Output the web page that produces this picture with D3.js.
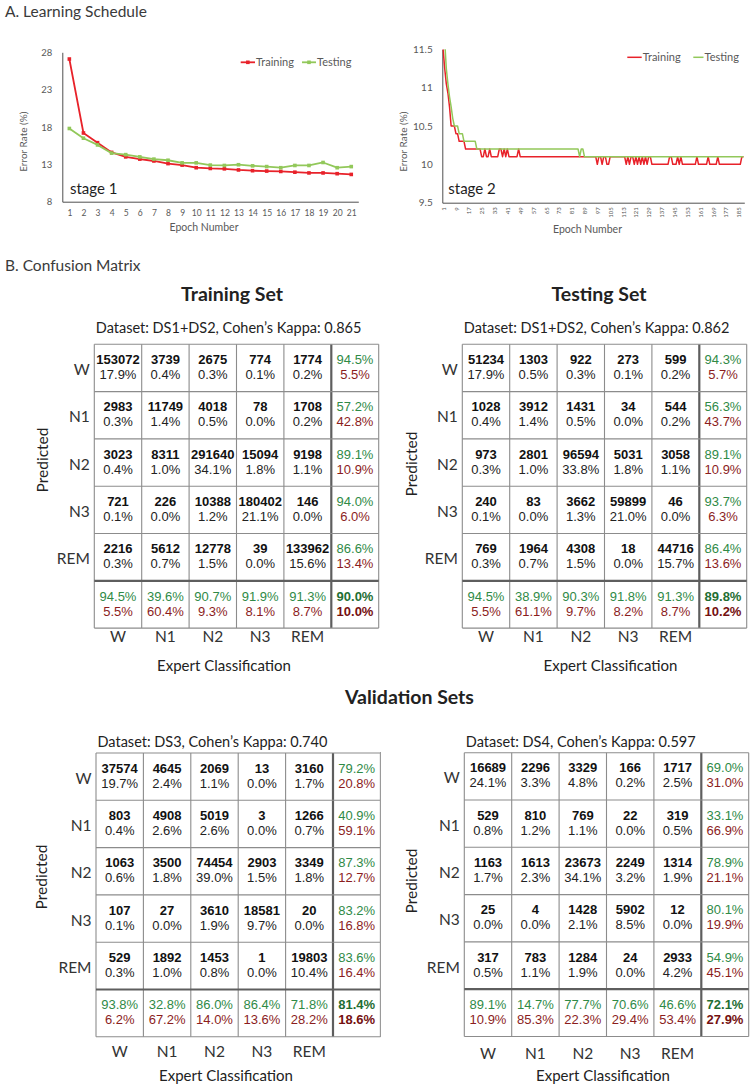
<!DOCTYPE html>
<html>
<head>
<meta charset="utf-8">
<script src="https://cdn.jsdelivr.net/npm/d3@7"></script>
<style>
  html, body { margin: 0; padding: 0; background: #fff; }
  svg { display: block; }
</style>
</head>
<body>
<svg id="chart" width="750" height="1086"></svg>
<script>
// ---------------- DATA ----------------
const stage1Epochs = [1, 2, 3, 4, 5, 6, 7, 8, 9, 10, 11, 12, 13, 14, 15, 16, 17, 18, 19, 20, 21];
const stage1Training = [27.1, 17.2, 15.9, 14.6, 14.0, 13.7, 13.45, 13.1, 12.9, 12.55, 12.45, 12.4, 12.25, 12.15, 12.1, 12.05, 11.95, 11.85, 11.85, 11.75, 11.65];
const stage1Testing = [17.8, 16.5, 15.6, 14.5, 14.3, 14.0, 13.7, 13.55, 13.2, 13.2, 12.9, 12.85, 12.95, 12.8, 12.7, 12.55, 12.85, 12.85, 13.25, 12.55, 12.7];
const stage1YTicks = [8, 13, 18, 23, 28];

const stage2Training = [
  11.5, 11.25, 11.05, 10.93, 10.75, 10.5, 10.5, 10.5, 10.4, 10.4,
  10.3, 10.3, 10.3, 10.3, 10.2, 10.2, 10.2, 10.2, 10.2, 10.2,
  10.2, 10.2, 10.2, 10.2, 10.1, 10.1, 10.2, 10.1, 10.1, 10.2,
  10.1, 10.1, 10.1, 10.1, 10.1, 10.2, 10.2, 10.1, 10.2, 10.1,
  10.2, 10.1, 10.1, 10.1, 10.1, 10.1, 10.1, 10.2, 10.1, 10.1,
  10.1, 10.1, 10.1, 10.1, 10.1, 10.1, 10.1, 10.1, 10.1, 10.1,
  10.1, 10.1, 10.1, 10.1, 10.1, 10.1, 10.1, 10.1, 10.1, 10.1,
  10.1, 10.1, 10.1, 10.1, 10.1, 10.1, 10.1, 10.1, 10.1, 10.1,
  10.1, 10.1, 10.1, 10.1, 10.1, 10.1, 10.1, 10.1, 10.1, 10.1,
  10.1, 10.1, 10.1, 10.1, 10.1, 10.1, 10.0, 10.1, 10.1, 10.0,
  10.1, 10.1, 10.0, 10.0, 10.1, 10.1, 10.1, 10.1, 10.1, 10.1,
  10.1, 10.1, 10.1, 10.1, 10.0, 10.1, 10.0, 10.1, 10.1, 10.0,
  10.1, 10.0, 10.1, 10.0, 10.1, 10.0, 10.1, 10.0, 10.1, 10.1,
  10.0, 10.0, 10.0, 10.0, 10.0, 10.0, 10.0, 10.0, 10.0, 10.0,
  10.0, 10.1, 10.1, 10.0, 10.0, 10.0, 10.1, 10.0, 10.1, 10.0,
  10.0, 10.0, 10.0, 10.0, 10.0, 10.0, 10.0, 10.0, 10.1, 10.0,
  10.0, 10.0, 10.0, 10.0, 10.0, 10.1, 10.0, 10.0, 10.0, 10.0,
  10.0, 10.1, 10.0, 10.0, 10.0, 10.0, 10.0, 10.0, 10.0, 10.0,
  10.0, 10.0, 10.0, 10.0, 10.0, 10.0, 10.1, 10.1
];
const stage2Testing = [
  12.0, 11.6, 11.25, 11.05, 10.88, 10.75, 10.6, 10.5, 10.5, 10.5,
  10.4, 10.4, 10.4, 10.3, 10.3, 10.3, 10.3, 10.3, 10.3, 10.3,
  10.3, 10.2, 10.2, 10.2, 10.2, 10.2, 10.2, 10.2, 10.2, 10.2,
  10.2, 10.2, 10.2, 10.2, 10.2, 10.2, 10.2, 10.2, 10.2, 10.2,
  10.2, 10.2, 10.2, 10.2, 10.2, 10.2, 10.2, 10.2, 10.2, 10.2,
  10.2, 10.2, 10.2, 10.2, 10.2, 10.2, 10.2, 10.2, 10.2, 10.2,
  10.2, 10.2, 10.2, 10.2, 10.2, 10.2, 10.2, 10.2, 10.2, 10.2,
  10.2, 10.2, 10.2, 10.2, 10.2, 10.2, 10.2, 10.2, 10.2, 10.2,
  10.2, 10.2, 10.2, 10.2, 10.2, 10.1, 10.2, 10.2, 10.1, 10.1,
  10.1, 10.1, 10.1, 10.1, 10.1, 10.1, 10.1, 10.1, 10.1, 10.1,
  10.1, 10.1, 10.1, 10.1, 10.1, 10.1, 10.1, 10.1, 10.1, 10.1,
  10.1, 10.1, 10.1, 10.1, 10.1, 10.1, 10.1, 10.1, 10.1, 10.1,
  10.1, 10.1, 10.1, 10.1, 10.1, 10.1, 10.1, 10.1, 10.1, 10.1,
  10.1, 10.1, 10.1, 10.1, 10.1, 10.1, 10.1, 10.1, 10.1, 10.1,
  10.1, 10.1, 10.1, 10.1, 10.1, 10.1, 10.1, 10.1, 10.1, 10.1,
  10.1, 10.1, 10.1, 10.1, 10.1, 10.1, 10.1, 10.1, 10.1, 10.1,
  10.1, 10.1, 10.1, 10.1, 10.1, 10.1, 10.1, 10.1, 10.1, 10.1,
  10.1, 10.1, 10.1, 10.1, 10.1, 10.1, 10.1, 10.1, 10.1, 10.1,
  10.1, 10.1, 10.1, 10.1, 10.1, 10.1, 10.1, 10.1
];
const stage2YTicks = [9.5, 10, 10.5, 11, 11.5];
const stage2TickEpochs = [1, 9, 17, 25, 33, 41, 49, 57, 65, 73, 81, 89, 97, 105, 113, 121, 129, 137, 145, 153, 161, 169, 177, 185];

const stages = ["W", "N1", "N2", "N3", "REM"];

// Training set (DS1+DS2)
const trainCounts = [
  [153072, 3739, 2675, 774, 1774],
  [2983, 11749, 4018, 78, 1708],
  [3023, 8311, 291640, 15094, 9198],
  [721, 226, 10388, 180402, 146],
  [2216, 5612, 12778, 39, 133962]
];
const trainPct = [
  [17.9, 0.4, 0.3, 0.1, 0.2],
  [0.3, 1.4, 0.5, 0.0, 0.2],
  [0.4, 1.0, 34.1, 1.8, 1.1],
  [0.1, 0.0, 1.2, 21.1, 0.0],
  [0.3, 0.7, 1.5, 0.0, 15.6]
];
const trainRowAcc = [94.5, 57.2, 89.1, 94.0, 86.6];
const trainRowErr = [5.5, 42.8, 10.9, 6.0, 13.4];
const trainColAcc = [94.5, 39.6, 90.7, 91.9, 91.3];
const trainColErr = [5.5, 60.4, 9.3, 8.1, 8.7];
const trainOverall = [90.0, 10.0];

// Testing set (DS1+DS2)
const testCounts = [
  [51234, 1303, 922, 273, 599],
  [1028, 3912, 1431, 34, 544],
  [973, 2801, 96594, 5031, 3058],
  [240, 83, 3662, 59899, 46],
  [769, 1964, 4308, 18, 44716]
];
const testPct = [
  [17.9, 0.5, 0.3, 0.1, 0.2],
  [0.4, 1.4, 0.5, 0.0, 0.2],
  [0.3, 1.0, 33.8, 1.8, 1.1],
  [0.1, 0.0, 1.3, 21.0, 0.0],
  [0.3, 0.7, 1.5, 0.0, 15.7]
];
const testRowAcc = [94.3, 56.3, 89.1, 93.7, 86.4];
const testRowErr = [5.7, 43.7, 10.9, 6.3, 13.6];
const testColAcc = [94.5, 38.9, 90.3, 91.8, 91.3];
const testColErr = [5.5, 61.1, 9.7, 8.2, 8.7];
const testOverall = [89.8, 10.2];

// Validation DS3
const ds3Counts = [
  [37574, 4645, 2069, 13, 3160],
  [803, 4908, 5019, 3, 1266],
  [1063, 3500, 74454, 2903, 3349],
  [107, 27, 3610, 18581, 20],
  [529, 1892, 1453, 1, 19803]
];
const ds3Pct = [
  [19.7, 2.4, 1.1, 0.0, 1.7],
  [0.4, 2.6, 2.6, 0.0, 0.7],
  [0.6, 1.8, 39.0, 1.5, 1.8],
  [0.1, 0.0, 1.9, 9.7, 0.0],
  [0.3, 1.0, 0.8, 0.0, 10.4]
];
const ds3RowAcc = [79.2, 40.9, 87.3, 83.2, 83.6];
const ds3RowErr = [20.8, 59.1, 12.7, 16.8, 16.4];
const ds3ColAcc = [93.8, 32.8, 86.0, 86.4, 71.8];
const ds3ColErr = [6.2, 67.2, 14.0, 13.6, 28.2];
const ds3Overall = [81.4, 18.6];

// Validation DS4
const ds4Counts = [
  [16689, 2296, 3329, 166, 1717],
  [529, 810, 769, 22, 319],
  [1163, 1613, 23673, 2249, 1314],
  [25, 4, 1428, 5902, 12],
  [317, 783, 1284, 24, 2933]
];
const ds4Pct = [
  [24.1, 3.3, 4.8, 0.2, 2.5],
  [0.8, 1.2, 1.1, 0.0, 0.5],
  [1.7, 2.3, 34.1, 3.2, 1.9],
  [0.0, 0.0, 2.1, 8.5, 0.0],
  [0.5, 1.1, 1.9, 0.0, 4.2]
];
const ds4RowAcc = [69.0, 33.1, 78.9, 80.1, 54.9];
const ds4RowErr = [31.0, 66.9, 21.1, 19.9, 45.1];
const ds4ColAcc = [89.1, 14.7, 77.7, 70.6, 46.6];
const ds4ColErr = [10.9, 85.3, 22.3, 29.4, 53.4];
const ds4Overall = [72.1, 27.9];

// ---------------- DRAWING ----------------
const svg = d3.select("#chart");
const FONT_CHART = "Lato, 'Open Sans', sans-serif";
const FONT_LABEL = "Lato, 'Open Sans', sans-serif";
const FONT_NUM = "'Liberation Sans', Arial, Helvetica, sans-serif";
const RED = "#e8222a";
const GREEN = "#92c85a";
const GRAY_TXT = "#595959";

function txt(g, x, y, s, o = {}) {
  return g.append("text")
    .attr("x", x).attr("y", y)
    .attr("font-family", o.family || FONT_LABEL)
    .attr("font-size", o.size || 14)
    .attr("font-weight", o.weight || "normal")
    .attr("fill", o.fill || "#222")
    .attr("text-anchor", o.anchor || "start")
    .text(s);
}

// Section headers
txt(svg, 5, 17, "A. Learning Schedule", { size: 15.5, fill: "#3a3a3a" });
txt(svg, 5, 271, "B. Confusion Matrix", { size: 15.5, fill: "#3a3a3a" });

let clipCount = 0;
function lineChart(cfg) {
  const g = svg.append("g");
  const x = d3.scalePoint().domain(cfg.epochs).range([cfg.x0, cfg.x1]).padding(0.5);
  const y = d3.scaleLinear().domain(cfg.yDomain).range([cfg.yb, cfg.yt]);
  const clipId = "clip" + (clipCount++);
  svg.append("clipPath").attr("id", clipId).append("rect")
    .attr("x", cfg.x0).attr("y", cfg.yt).attr("width", cfg.x1 - cfg.x0).attr("height", cfg.yb - cfg.yt);

  // y axis
  const ya = g.append("g").attr("transform", `translate(${cfg.x0},0)`)
    .call(d3.axisLeft(y).tickValues(cfg.yTicks).tickSize(0).tickPadding(cfg.yPad).tickFormat(d => d));
  ya.select(".domain").attr("stroke", "#3c3c3c").attr("stroke-width", 0.9);
  ya.selectAll("text").attr("font-family", FONT_CHART).attr("font-size", cfg.yFont).attr("fill", GRAY_TXT);

  // x axis
  const xa = g.append("g").attr("transform", `translate(0,${cfg.yb})`)
    .call(d3.axisBottom(x).tickValues(cfg.xTicks).tickSize(0).tickPadding(cfg.xPad));
  xa.select(".domain").attr("stroke", "#3c3c3c").attr("stroke-width", 0.9);
  xa.selectAll("text").attr("font-family", FONT_CHART).attr("font-size", cfg.xFont).attr("fill", GRAY_TXT);
  if (cfg.rotate) {
    xa.selectAll(".tick text")
      .attr("transform", "rotate(-90)")
      .attr("x", -4.5).attr("y", 0).attr("dy", "0.35em")
      .attr("text-anchor", "end");
  }

  // axis titles
  txt(g, cfg.xTitleX, cfg.xTitleY, "Epoch Number", { family: FONT_CHART, size: 10.5, fill: GRAY_TXT, anchor: "middle" });
  txt(g, 0, 0, "Error Rate (%)", { family: FONT_CHART, size: 10, fill: GRAY_TXT, anchor: "middle" })
    .attr("transform", `translate(${cfg.yTitleX},${cfg.yTitleY}) rotate(-90)`);

  // series
  const line = d3.line().x((v, i) => x(cfg.epochs[i])).y(v => y(v));
  cfg.series.forEach(s => {
    g.append("path").datum(s.values)
      .attr("clip-path", `url(#${clipId})`)
      .attr("fill", "none").attr("stroke", s.color).attr("stroke-width", cfg.lw)
      .attr("stroke-linejoin", "round")
      .attr("d", line);
    if (cfg.markers) {
      g.append("g").selectAll("rect").data(s.values).join("rect")
        .attr("x", (v, i) => x(cfg.epochs[i]) - 1.8)
        .attr("y", v => y(v) - 1.8)
        .attr("width", 3.6).attr("height", 3.6)
        .attr("fill", s.color);
    }
  });

  // legend
  cfg.legend.forEach((l, k) => {
    const s = cfg.series[k];
    g.append("line").attr("x1", l.x1).attr("x2", l.x2).attr("y1", cfg.legendY).attr("y2", cfg.legendY)
      .attr("stroke", s.color).attr("stroke-width", cfg.lw);
    if (cfg.markers) {
      g.append("rect").attr("x", (l.x1 + l.x2) / 2 - 1.8).attr("y", cfg.legendY - 1.8)
        .attr("width", 3.6).attr("height", 3.6).attr("fill", s.color);
    }
    txt(g, l.x2 + 1, cfg.legendY + 3.8, s.name, { family: FONT_CHART, size: 11, fill: GRAY_TXT });
  });

  // stage label
  txt(g, cfg.stageX, cfg.stageY, cfg.stage, { family: FONT_CHART, size: 15, fill: "#1e1e1e" });
}

lineChart({
  epochs: stage1Epochs, x0: 62.3, x1: 358.3, yt: 52.3, yb: 201.7,
  yDomain: [8, 28], yTicks: stage1YTicks, yPad: 10, yFont: 9.5,
  xTicks: stage1Epochs, xPad: 8.5, xFont: 8.5, rotate: false,
  xTitleX: 204, xTitleY: 231, yTitleX: 27, yTitleY: 141.7,
  lw: 1.8, markers: true,
  series: [
    { name: "Training", values: stage1Training, color: RED },
    { name: "Testing", values: stage1Testing, color: GREEN }
  ],
  legendY: 62.3,
  legend: [{ x1: 240.7, x2: 255 }, { x1: 302, x2: 316 }],
  stage: "stage 1", stageX: 70, stageY: 193.5
});

lineChart({
  epochs: d3.range(1, stage2Training.length + 1), x0: 442.3, x1: 744.3, yt: 49.3, yb: 202.7,
  yDomain: [9.5, 11.5], yTicks: stage2YTicks, yPad: 9.6, yFont: 10,
  xTicks: stage2TickEpochs, xPad: 4, xFont: 6, rotate: true,
  xTitleX: 587.5, xTitleY: 232.5, yTitleX: 407, yTitleY: 141.7,
  lw: 1.5, markers: false,
  series: [
    { name: "Training", values: stage2Training, color: RED },
    { name: "Testing", values: stage2Testing, color: GREEN }
  ],
  legendY: 57.3,
  legend: [{ x1: 627.3, x2: 641.7 }, { x1: 693.3, x2: 703.5 }],
  stage: "stage 2", stageX: 448.3, stageY: 193.5
});

// ---------------- CONFUSION MATRICES ----------------
const CW = 47.4, CH = 47.3;
const C_GREEN = "#2f8a46", C_RED = "#8b1d1d";
const C_GREEN_B = "#1f6e33", C_RED_B = "#741010";
const fmtPct = v => v.toFixed(1) + "%";

function matrix(m) {
  const cols = stages.concat(["sum"]);
  const x = d3.scaleBand().domain(cols).range([m.x0, m.x0 + 6 * CW]);
  const y = d3.scaleBand().domain(cols).range([m.y0, m.y0 + 6 * CH]);
  const g = svg.append("g");
  const cx = c => x(c) + x.bandwidth() / 2;

  // cell numbers
  stages.forEach((r, i) => {
    stages.forEach((c, j) => {
      txt(g, cx(c), y(r) + 19.7, String(m.counts[i][j]), { family: FONT_NUM, size: 13, weight: "bold", fill: "#111", anchor: "middle" });
      txt(g, cx(c), y(r) + 34.7, fmtPct(m.pct[i][j]), { family: FONT_NUM, size: 13, fill: "#222", anchor: "middle" });
    });
    txt(g, cx("sum"), y(r) + 19.7, fmtPct(m.rowAcc[i]), { family: FONT_NUM, size: 13, fill: C_GREEN, anchor: "middle" });
    txt(g, cx("sum"), y(r) + 34.7, fmtPct(m.rowErr[i]), { family: FONT_NUM, size: 13, fill: C_RED, anchor: "middle" });
    // row label
    txt(g, m.x0 - 4.5, y(r) + CH / 2 + 7, r, { size: 15.5, fill: "#333", anchor: "end" });
  });
  stages.forEach((c, j) => {
    txt(g, cx(c), y("sum") + 19.7, fmtPct(m.colAcc[j]), { family: FONT_NUM, size: 13, fill: C_GREEN, anchor: "middle" });
    txt(g, cx(c), y("sum") + 34.7, fmtPct(m.colErr[j]), { family: FONT_NUM, size: 13, fill: C_RED, anchor: "middle" });
    txt(g, cx(c), m.colLabelY, c, { size: 15.5, fill: "#333", anchor: "middle" });
  });
  txt(g, cx("sum"), y("sum") + 19.7, fmtPct(m.overall[0]), { family: FONT_NUM, size: 13, weight: "bold", fill: C_GREEN_B, anchor: "middle" });
  txt(g, cx("sum"), y("sum") + 34.7, fmtPct(m.overall[1]), { family: FONT_NUM, size: 13, weight: "bold", fill: C_RED_B, anchor: "middle" });

  // grid
  const xs = cols.map(c => x(c)).concat([x.range()[1]]);
  const ys = cols.map(c => y(c)).concat([y.range()[1]]);
  xs.forEach((xv, k) => {
    g.append("line").attr("x1", xv).attr("x2", xv).attr("y1", ys[0]).attr("y2", ys[6])
      .attr("stroke", k === 5 ? "#5e5e5e" : "#8c8c8c").attr("stroke-width", k === 5 ? 2.2 : 1.1);
  });
  ys.forEach((yv, k) => {
    g.append("line").attr("x1", xs[0]).attr("x2", xs[6]).attr("y1", yv).attr("y2", yv)
      .attr("stroke", k === 5 ? "#5e5e5e" : "#8c8c8c").attr("stroke-width", k === 5 ? 2.2 : 1.1);
  });

  // titles & labels
  txt(g, m.x0 + 1.5, m.datasetY, m.dataset, { size: 14.5, fill: "#222" });
  txt(g, m.expertX, m.expertY, "Expert Classification", { size: 15, fill: "#222", anchor: "middle" });
  txt(g, 0, 0, "Predicted", { size: 15.5, fill: "#222", anchor: "middle" })
    .attr("transform", `translate(${m.predX},${m.predY}) rotate(-90)`);
}

// Panel titles
txt(svg, 232, 300.7, "Training Set", { size: 19.5, weight: "bold", fill: "#222", anchor: "middle" });
txt(svg, 599, 300.7, "Testing Set", { size: 19.5, weight: "bold", fill: "#222", anchor: "middle" });
txt(svg, 409.5, 704, "Validation Sets", { size: 19.5, weight: "bold", fill: "#222", anchor: "middle" });

matrix({
  x0: 94.3, y0: 344.3, counts: trainCounts, pct: trainPct,
  rowAcc: trainRowAcc, rowErr: trainRowErr, colAcc: trainColAcc, colErr: trainColErr, overall: trainOverall,
  dataset: "Dataset: DS1+DS2, Cohen\u2019s Kappa: 0.865", datasetY: 332.7,
  colLabelY: 642, expertX: 224, expertY: 670.5, predX: 48, predY: 460
});
matrix({
  x0: 462.3, y0: 344.3, counts: testCounts, pct: testPct,
  rowAcc: testRowAcc, rowErr: testRowErr, colAcc: testColAcc, colErr: testColErr, overall: testOverall,
  dataset: "Dataset: DS1+DS2, Cohen\u2019s Kappa: 0.862", datasetY: 332.7,
  colLabelY: 642, expertX: 610.5, expertY: 670.5, predX: 416.5, predY: 464
});
matrix({
  x0: 96, y0: 753, counts: ds3Counts, pct: ds3Pct,
  rowAcc: ds3RowAcc, rowErr: ds3RowErr, colAcc: ds3ColAcc, colErr: ds3ColErr, overall: ds3Overall,
  dataset: "Dataset: DS3, Cohen\u2019s Kappa: 0.740", datasetY: 746.7,
  colLabelY: 1057, expertX: 226, expertY: 1081, predX: 47, predY: 877
});
matrix({
  x0: 464.3, y0: 752.7, counts: ds4Counts, pct: ds4Pct,
  rowAcc: ds4RowAcc, rowErr: ds4RowErr, colAcc: ds4ColAcc, colErr: ds4ColErr, overall: ds4Overall,
  dataset: "Dataset: DS4, Cohen\u2019s Kappa: 0.597", datasetY: 746.7,
  colLabelY: 1059, expertX: 603, expertY: 1081, predX: 417, predY: 881
});

// separator between validation panels
svg.append("line").attr("x1", 380.5).attr("x2", 380.5).attr("y1", 752).attr("y2", 1037)
  .attr("stroke", "#9a9a9a").attr("stroke-width", 1);
</script>
</body>
</html>
